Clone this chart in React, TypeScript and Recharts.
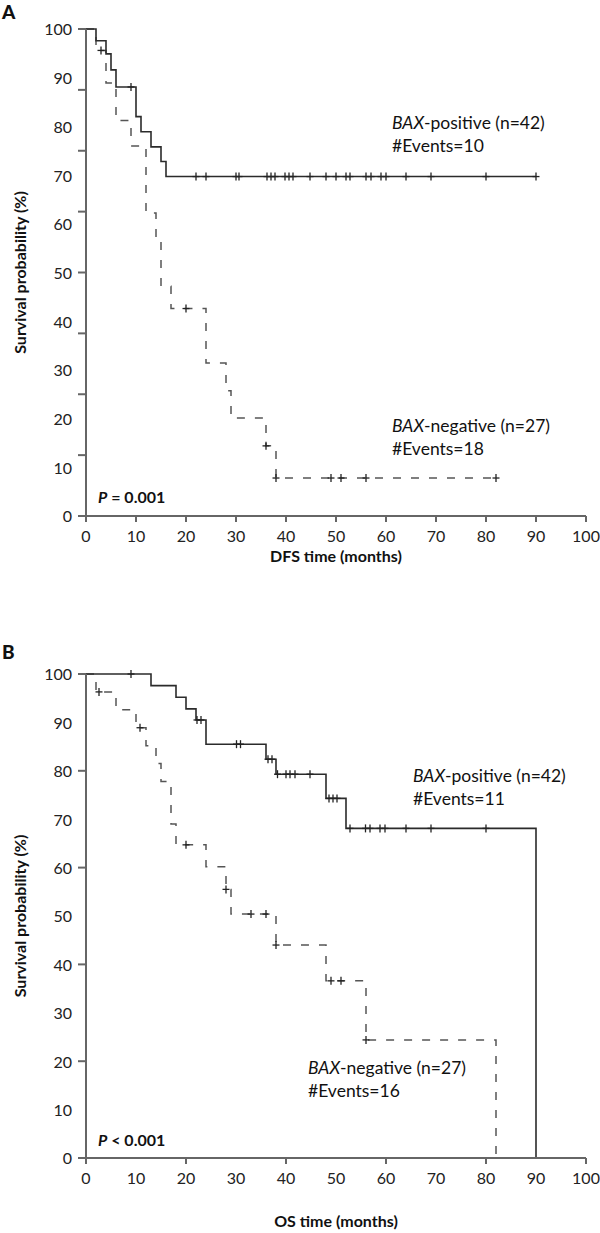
import { ComposedChart, Line, Scatter, XAxis, YAxis } from 'recharts'

// ---- Panel A: disease-free survival ----
const dfsPosTime = [0, 2, 4, 5, 6, 10, 11, 13, 15, 16, 90]
const dfsPosSurv = [100, 97.6, 94.9, 91.6, 88.1, 82.0, 78.9, 75.8, 72.8, 69.7, 69.7]
const dfsPosCensTime = [9, 22, 24, 30, 30.6, 36.2, 37, 37.8, 39.8, 40.6, 41.4, 44.8, 48, 50, 52, 52.8, 56, 57, 59, 60, 64, 69, 80, 90]
const dfsPosCensSurv = [88.1, 69.7, 69.7, 69.7, 69.7, 69.7, 69.7, 69.7, 69.7, 69.7, 69.7, 69.7, 69.7, 69.7, 69.7, 69.7, 69.7, 69.7, 69.7, 69.7, 69.7, 69.7, 69.7, 69.7]

const dfsNegTime = [0, 2, 4, 6, 9, 12, 14, 15, 17, 24, 28, 29, 36, 38, 82]
const dfsNegSurv = [100, 95.6, 88.9, 81.2, 76.0, 62.2, 56.8, 47.2, 42.6, 31.4, 25.7, 20.1, 14.4, 7.8, 7.8]
const dfsNegCensTime = [3, 20, 36, 38, 49, 51, 56, 82]
const dfsNegCensSurv = [95.6, 42.6, 14.4, 7.8, 7.8, 7.8, 7.8, 7.8]

// ---- Panel B: overall survival ----
const osPosTime = [0, 13, 18, 20, 22, 24, 36, 38, 48, 52, 90, 90]
const osPosSurv = [100, 97.6, 95.2, 92.8, 90.5, 85.5, 82.4, 79.3, 74.3, 68.1, 68.1, 0]
const osPosCensTime = [9, 22.2, 23, 30.1, 30.9, 36.4, 37.2, 38.3, 40, 40.8, 41.8, 44.8, 48.6, 49.4, 50.2, 52.8, 55.9, 56.8, 58.8, 59.8, 64, 69, 80]
const osPosCensSurv = [100, 90.5, 90.5, 85.5, 85.5, 82.4, 82.4, 79.3, 79.3, 79.3, 79.3, 79.3, 74.3, 74.3, 74.3, 68.1, 68.1, 68.1, 68.1, 68.1, 68.1, 68.1, 68.1]

const osNegTime = [0, 2, 6, 10, 12, 14, 15, 17, 18, 24, 28, 29, 38, 48, 56, 82, 82]
const osNegSurv = [100, 96.3, 92.6, 88.9, 85.2, 81.5, 77.8, 69.0, 64.7, 60.2, 55.5, 50.4, 44.0, 36.6, 24.4, 24.4, 0]
const osNegCensTime = [2.6, 10.8, 20, 28, 33, 36, 38, 49, 51, 56]
const osNegCensSurv = [96.3, 88.9, 64.7, 55.5, 50.4, 50.4, 44.0, 36.6, 36.6, 24.4]

// tick labels and tick marks
const timeLabels = [0, 10, 20, 30, 40, 50, 60, 70, 80, 90, 100]
const dfsTimeMarks = [0, 10, 20, 30, 40, 50, 60, 70, 80, 90, 100]
const osTimeMarks = [0, 20, 40, 60, 80, 100]
const survLabels = [0, 10, 20, 30, 40, 50, 60, 70, 80, 90, 100]
const dfsSurvMarks = [0, 12.5, 25, 37.5, 50, 62.5, 75, 87.5, 100]
const osSurvMarks = [0, 20, 40, 60, 80, 100]

const AXIS = '#666'
const INK = '#2b2b2b'
const Y_TICK_SIZE = 8
const Y_TICK_MARGIN = 6
const X_TICK_SIZE = 6
const X_TICK_MARGIN = 9

type Pt = { t: number; v: number }
const zip = (ts: number[], vs: number[]): Pt[] => ts.map((t, i) => ({ t, v: vs[i] }))
const union = (a: number[], b: number[]) => Array.from(new Set([...a, ...b])).sort((p, q) => p - q)

function Plus(props: any) {
  const { cx, cy } = props
  if (cx == null || cy == null) return <g />
  return (
    <g stroke="#222" strokeWidth={1.3}>
      <line x1={cx - 3.5} x2={cx + 3.5} y1={cy} y2={cy} />
      <line x1={cx} x2={cx} y1={cy - 4} y2={cy + 4} />
    </g>
  )
}

function YTick(props: any) {
  const { x, y, payload, labels, marks } = props
  const v = payload.value
  return (
    <g>
      {marks.includes(v) && (
        <line x1={x + Y_TICK_MARGIN} x2={x + Y_TICK_MARGIN + Y_TICK_SIZE} y1={y} y2={y} stroke={AXIS} strokeWidth={2} />
      )}
      {labels.includes(v) && (
        <text x={x} y={y} dy="0.4em" textAnchor="end" fontSize={16} fill="#222">{v}</text>
      )}
    </g>
  )
}

function XTick(props: any) {
  const { x, y, payload, labels, marks } = props
  const v = payload.value
  return (
    <g>
      {marks.includes(v) && (
        <line x1={x} x2={x} y1={y - X_TICK_MARGIN - X_TICK_SIZE} y2={y - X_TICK_MARGIN} stroke={AXIS} strokeWidth={2} />
      )}
      {labels.includes(v) && (
        <text x={x} y={y} dy="0.71em" textAnchor="middle" fontSize={16} fill="#222">{v}</text>
      )}
    </g>
  )
}

type PanelProps = {
  pos: Pt[]
  neg: Pt[]
  posCens: Pt[]
  negCens: Pt[]
  xMarks: number[]
  yMarks: number[]
  margin: { top: number; right: number; bottom: number; left: number }
  xAxisHeight: number
  xTitle: string
  xTitleOffset: number
}

function KMPanel({ pos, neg, posCens, negCens, xMarks, yMarks, margin, xAxisHeight, xTitle, xTitleOffset }: PanelProps) {
  const xTicks = union(timeLabels, xMarks)
  const yTicks = union(survLabels, yMarks)
  return (
    <ComposedChart width={600} height={600} margin={margin}>
      <XAxis
        type="number"
        dataKey="t"
        domain={[0, 100]}
        ticks={xTicks}
        interval={0}
        height={xAxisHeight}
        tickLine={false}
        tickSize={X_TICK_SIZE}
        tickMargin={X_TICK_MARGIN}
        axisLine={{ stroke: AXIS, strokeWidth: 2 }}
        tick={(p: any) => <XTick {...p} labels={timeLabels} marks={xMarks} />}
        label={{ value: xTitle, position: 'insideBottom', offset: xTitleOffset, style: { fontWeight: 700, fontSize: 16, fill: '#111' } }}
      />
      <YAxis
        type="number"
        domain={[0, 100]}
        ticks={yTicks}
        interval={0}
        width={86}
        tickLine={false}
        tickSize={Y_TICK_SIZE}
        tickMargin={Y_TICK_MARGIN}
        axisLine={{ stroke: AXIS, strokeWidth: 2 }}
        tick={(p: any) => <YTick {...p} labels={survLabels} marks={yMarks} />}
        label={{ value: 'Survival probability (%)', angle: -90, position: 'insideLeft', offset: 20, style: { textAnchor: 'middle', fontWeight: 700, fontSize: 16, fill: '#111' } }}
      />
      <Line data={neg} dataKey="v" type="stepAfter" stroke="#555" strokeWidth={1.5} strokeDasharray="8 10" dot={false} isAnimationActive={false} />
      <Line data={pos} dataKey="v" type="stepAfter" stroke={INK} strokeWidth={1.6} dot={false} isAnimationActive={false} />
      <Scatter data={negCens} dataKey="v" shape={(p: any) => <Plus {...p} />} isAnimationActive={false} />
      <Scatter data={posCens} dataKey="v" shape={(p: any) => <Plus {...p} />} isAnimationActive={false} />
    </ComposedChart>
  )
}

const note: React.CSSProperties = { position: 'absolute', fontSize: 17.5, lineHeight: '23px', color: '#111', whiteSpace: 'nowrap' }
const bold: React.CSSProperties = { position: 'absolute', fontSize: 16, lineHeight: '20px', fontWeight: 700, color: '#111', whiteSpace: 'nowrap' }
const letter: React.CSSProperties = { position: 'absolute', fontSize: 19, lineHeight: '22px', fontWeight: 900, color: '#111' }

export default function App() {
  return (
    <div style={{ position: 'absolute', left: 0, top: 0, width: 600, height: 1233, background: '#fff', fontFamily: 'Lato, sans-serif' }}>
      <div style={{ position: 'absolute', left: 0, top: 0 }}>
        <KMPanel
          pos={zip(dfsPosTime, dfsPosSurv)}
          neg={zip(dfsNegTime, dfsNegSurv)}
          posCens={zip(dfsPosCensTime, dfsPosCensSurv)}
          negCens={zip(dfsNegCensTime, dfsNegCensSurv)}
          xMarks={dfsTimeMarks}
          yMarks={dfsSurvMarks}
          margin={{ top: 29, right: 14, bottom: 24, left: 0 }}
          xAxisHeight={60}
          xTitle="DFS time (months)"
          xTitleOffset={14}
        />
      </div>
      <div style={{ position: 'absolute', left: 0, top: 633 }}>
        <KMPanel
          pos={zip(osPosTime, osPosSurv)}
          neg={zip(osNegTime, osNegSurv)}
          posCens={zip(osPosCensTime, osPosCensSurv)}
          negCens={zip(osNegCensTime, osNegCensSurv)}
          xMarks={osTimeMarks}
          yMarks={osSurvMarks}
          margin={{ top: 41, right: 14, bottom: 0, left: 0 }}
          xAxisHeight={75}
          xTitle="OS time (months)"
          xTitleOffset={6}
        />
      </div>

      <div style={{ ...letter, left: 2, top: 1 }}>A</div>
      <div style={{ ...letter, left: 2, top: 641 }}>B</div>

      <div style={{ ...note, left: 392, top: 111 }}>
        <i>BAX</i>-positive (n=42)<br />#Events=10
      </div>
      <div style={{ ...note, left: 392, top: 414 }}>
        <i>BAX</i>-negative (n=27)<br />#Events=18
      </div>
      <div style={{ ...note, left: 413, top: 764 }}>
        <i>BAX</i>-positive (n=42)<br />#Events=11
      </div>
      <div style={{ ...note, left: 308, top: 1056 }}>
        <i>BAX</i>-negative (n=27)<br />#Events=16
      </div>

      <div style={{ ...bold, left: 98, top: 487 }}>
        <i>P</i> = 0.001
      </div>
      <div style={{ ...bold, left: 98, top: 1130 }}>
        <i>P</i> &lt; 0.001
      </div>
    </div>
  )
}
